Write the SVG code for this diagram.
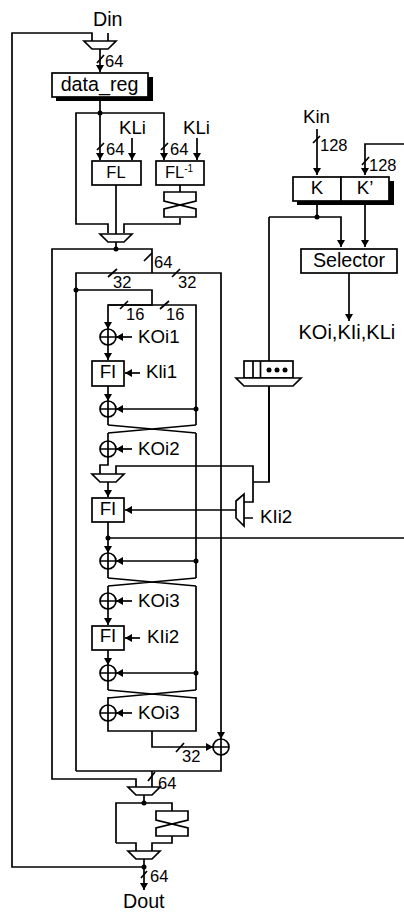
<svg xmlns="http://www.w3.org/2000/svg" width="404" height="912" viewBox="0 0 404 912">
<style>
.w{fill:none;stroke:#000;stroke-width:1.7}
.b{fill:#fff;stroke:#000;stroke-width:1.7}
.s{fill:#000}
.d{fill:#000}
text{font-family:"Liberation Sans",Arial,sans-serif;font-size:18.7px;fill:#000}
.n{font-size:16.5px}
.l{font-size:19.7px}
.m{text-anchor:middle}
</style>
<defs>
<marker id="ah" markerUnits="userSpaceOnUse" markerWidth="8" markerHeight="8" refX="7" refY="4" orient="auto"><path d="M0 0L7 4L0 8z" fill="#000"/></marker>
<circle id="j" r="2.500" fill="#000"/>
<g id="x"><circle r="8" fill="#fff" stroke="#000" stroke-width="1.7"/><path d="M-8 0H8M0-8V8" fill="none" stroke="#000" stroke-width="1.7"/></g>
<path id="mux" d="M-16 0H16L8 8H-8z" fill="#fff" stroke="#000" stroke-width="1.7"/>
<path id="swap" d="M0 9V0H32V9L0 17V25H32V17z" fill="#fff" stroke="#000" stroke-width="1.7"/>
<path id="cr" d="M0 0L88 8M88 0L0 8" fill="none" stroke="#000" stroke-width="1.7"/>
</defs>
<g id="connectors" class="w">
<path d="M92 41V33H12V867H144"/>
<path d="M108 33V41"/>
<path d="M100 49V72" marker-end="url(#ah)"/>
<path d="M97 63L104 55M97 150L104 143M161 150L168 143M144 261L152 253M108 277L117 269M172 277L180 269M120 309L128 301M160 309L169 301M176 752L184 743M148 781L155 772M141 878L147 871M313 143L320 136M362 165L369 157"/>
<path d="M100 97V160" marker-end="url(#ah)"/>
<path d="M108 233V224H76V113H164V160" marker-end="url(#ah)"/>
<path d="M132 138V160" marker-end="url(#ah)"/>
<path d="M197 138V160" marker-end="url(#ah)"/>
<path d="M116 185V234"/>
<path d="M180 185V192M180 218V224H124V233"/>
<path d="M116 242V249"/>
<path d="M136 787V779H52V249H152V273"/>
<path d="M76 771V273H221V739" marker-end="url(#ah)"/>
<path d="M221 755V771H76M152 771V787"/>
<path d="M76 290H152V305H108V329" marker-end="url(#ah)"/>
<path d="M108 305H196V425M196 433V578M196 586V690M196 697V731H108V721"/>
<path d="M132 337H116" marker-end="url(#ah)"/>
<path d="M108 345V360" marker-end="url(#ah)"/>
<path d="M140 373H125" marker-end="url(#ah)"/>
<path d="M108 386V401" marker-end="url(#ah)"/>
<path d="M196 409H116" marker-end="url(#ah)"/>
<path d="M108 417V425M108 433V441"/>
<path d="M132 449H116" marker-end="url(#ah)"/>
<path d="M108 457V465H100V474M116 474V466H253V502H244M253 482H269V217M253 518H244"/>
<path d="M236 510H125" marker-end="url(#ah)"/>
<path d="M108 482V497" marker-end="url(#ah)"/>
<path d="M108 522V553" marker-end="url(#ah)"/>
<path d="M108 538H404"/>
<path d="M196 561H116" marker-end="url(#ah)"/>
<path d="M108 569V578M108 586V593"/>
<path d="M132 601H116" marker-end="url(#ah)"/>
<path d="M108 609V625" marker-end="url(#ah)"/>
<path d="M140 638H125" marker-end="url(#ah)"/>
<path d="M108 650V665" marker-end="url(#ah)"/>
<path d="M196 673H116" marker-end="url(#ah)"/>
<path d="M108 681V690M108 697V705"/>
<path d="M132 713H116" marker-end="url(#ah)"/>
<path d="M152 731V747H213" marker-end="url(#ah)"/>
<path d="M144 795V803M116 843V803H172V811M172 835V843H152V851M116 843H136V851"/>
<path d="M144 859V890" marker-end="url(#ah)"/>
<path d="M317 129V175" marker-end="url(#ah)"/>
<path d="M404 144H365V175" marker-end="url(#ah)"/>
<path d="M317 201V217H269M317 217H341V247" marker-end="url(#ah)"/>
<path d="M365 201V247" marker-end="url(#ah)"/>
<path d="M349 273V321" marker-end="url(#ah)"/>
<path d="M269 386V482"/>
</g>
<g id="junctions">
<use href="#j" x="100" y="113"/><use href="#j" x="116" y="249"/><use href="#j" x="76" y="290"/><use href="#j" x="196" y="409"/><use href="#j" x="108" y="538"/><use href="#j" x="196" y="561"/><use href="#j" x="196" y="673"/><use href="#j" x="144" y="803"/><use href="#j" x="144" y="867"/><use href="#j" x="317" y="217"/>
</g>
<g id="crossovers"><use href="#cr" x="108" y="425"/><use href="#cr" x="108" y="578"/><use href="#cr" x="108" y="690"/></g>
<g id="mux-in"><use href="#mux" x="100" y="41"/><text class="l" x="93" y="26">Din</text><text class="n" x="105" y="67">64</text></g>
<g id="data_reg"><rect x="56" y="77" width="97" height="24" class="s"/><rect x="52" y="73" width="96" height="24" class="b"/><text class="m l" x="99.500" y="91">data_reg</text></g>
<g id="FL"><rect x="92" y="161" width="49" height="24" class="b"/><text class="m n" x="116" y="178">FL</text><text x="119" y="134">KLi</text><text class="n" x="106" y="155">64</text></g>
<g id="FL-inv"><rect x="156" y="161" width="48" height="24" class="b"/><text class="n" x="165" y="178">FL<tspan font-size="10" dy="-6">-1</tspan></text><text x="183" y="134">KLi</text><text class="n" x="170" y="155">64</text></g>
<g id="swap1"><use href="#swap" x="164" y="192"/></g>
<g id="mux-2"><use href="#mux" x="116" y="234"/><text class="n" x="154" y="268">64</text><text class="n" x="113" y="288">32</text><text class="n" x="178" y="288">32</text><text class="n" x="126" y="320">16</text><text class="n" x="166" y="320">16</text></g>
<g id="xor1"><use href="#x" x="108" y="337"/><text x="138" y="343">KOi1</text></g>
<g id="FI1"><rect x="92" y="361" width="32" height="25" class="b"/><text class="m" x="108" y="378">FI</text><text x="146" y="378">Kli1</text></g>
<g id="xor2"><use href="#x" x="108" y="409"/></g>
<g id="xor3"><use href="#x" x="108" y="449"/><text x="138" y="455">KOi2</text></g>
<g id="mux-3"><use href="#mux" x="108" y="474"/></g>
<g id="FI2"><rect x="92" y="498" width="32" height="24" class="b"/><text class="m" x="108" y="515">FI</text></g>
<g id="mux-kli2"><path d="M244 494V526L236 518V501z" class="b"/><text x="260" y="523">KIi2</text></g>
<g id="xor4"><use href="#x" x="108" y="561"/></g>
<g id="xor5"><use href="#x" x="108" y="601"/><text x="138" y="607">KOi3</text></g>
<g id="FI3"><rect x="92" y="626" width="32" height="24" class="b"/><text class="m" x="108" y="642">FI</text><text x="147" y="643">KIi2</text></g>
<g id="xor6"><use href="#x" x="108" y="673"/></g>
<g id="xor7"><use href="#x" x="108" y="713"/><text x="138" y="719">KOi3</text></g>
<g id="xor8"><use href="#x" x="221" y="747"/><text class="n" x="182" y="762">32</text></g>
<g id="mux-4"><use href="#mux" x="144" y="787"/><text class="n" x="158" y="789">64</text></g>
<g id="swap2"><use href="#swap" x="156" y="811"/></g>
<g id="mux-5"><use href="#mux" x="144" y="851"/><text class="n" x="150" y="882">64</text><text class="l" x="123" y="908">Dout</text></g>
<g id="key"><text x="303" y="123">Kin</text><text class="n" x="320" y="151">128</text><text class="n" x="369" y="171">128</text><rect x="297" y="181" width="97" height="24" class="s"/><rect x="293" y="177" width="48" height="24" class="b"/><rect x="341" y="177" width="48" height="24" class="b"/><text class="m" x="317" y="193.500">K</text><text class="m" x="365" y="193.500">K’</text></g>
<g id="selector"><rect x="301" y="249" width="96" height="24" class="b"/><text class="m l" x="349" y="267">Selector</text></g>
<g id="out-label"><text x="298.500" y="339" font-size="20" style="font-size:20px">KOi,KIi,KLi</text></g>
<g id="fifo"><rect x="244" y="361" width="49" height="17" class="b"/><path d="M253 361V378M260.500 361V378" class="w"/><circle cx="269" cy="370" r="2.500" class="d"/><circle cx="277" cy="370" r="2.500" class="d"/><circle cx="285" cy="370" r="2.500" class="d"/><path d="M236 378H301L293 386H244z" class="b"/></g>
</svg>
